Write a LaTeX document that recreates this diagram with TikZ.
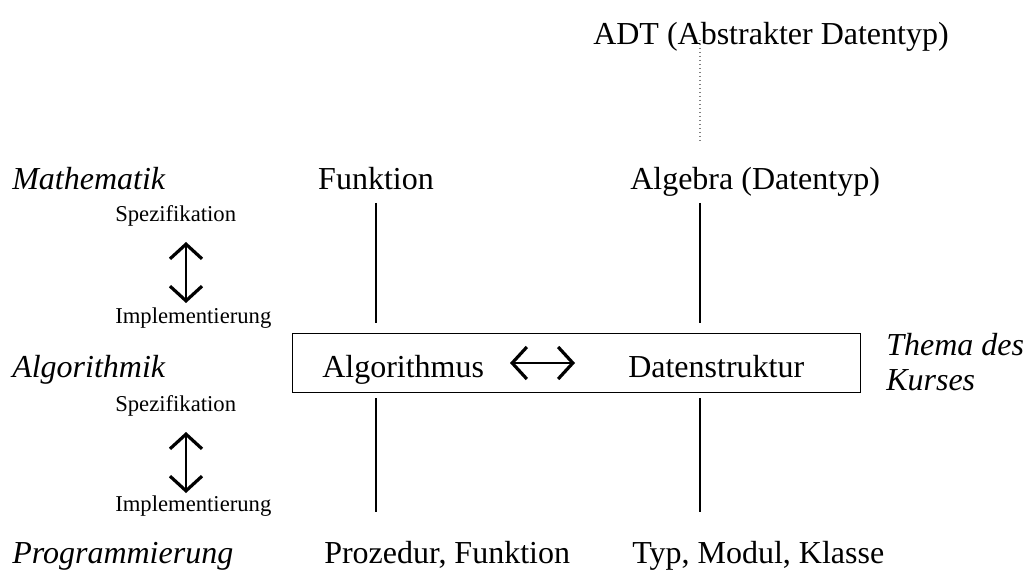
\documentclass[tikz,border=0pt]{standalone}
\usepackage{fontspec}
\setmainfont{Liberation Serif}
\usetikzlibrary{arrows.meta}
\tikzset{gross/.style={font=\fontsize{24}{28}\selectfont,inner sep=0pt},
ebene/.style={font=\fontsize{24}{28}\selectfont\itshape,inner sep=0pt},
klein/.style={font=\fontsize{17}{19}\selectfont,inner sep=0pt},
linie/.style={line width=.8pt},
barb/.tip={Straight Barb[length=11pt,width=24pt,line width=2.4pt]},
pfeil/.style={line width=1.5pt,barb-barb}}
\begin{document}
\begin{tikzpicture}[x=.75pt,y=-.75pt]
\useasboundingbox(0,0)rectangle(1028,570);
\node[gross,anchor=base west](adt)at(593,45){ADT (Abstrakter Datentyp)};
\node[ebene,anchor=base west](mathe)at(12,190){Mathematik};
\node[gross,anchor=base](funk)at(376,190){Funktion};
\node[gross,anchor=base west](alg)at(630,190){Algebra (Datentyp)};
\node[klein,anchor=base west](spez1)at(115,222){Spezifikation};
\node[klein,anchor=base west](impl1)at(115,324){Implementierung};
\node[draw,linie,anchor=north west,minimum width=426pt,minimum height=44pt](kurs)at(292,333){};
\node[ebene,anchor=base west](algo)at(12,377){Algorithmik};
\node[gross,anchor=base west](algus)at(322,377){Algorithmus};
\node[gross,anchor=base west](daten)at(628,377){Datenstruktur};
\node[ebene,anchor=base west](thema)at(886,355){Thema des};
\node[ebene,anchor=base west](kurse)at(886,390){Kurses};
\node[klein,anchor=base west](spez2)at(115,411){Spezifikation};
\node[klein,anchor=base west](impl2)at(115,511){Implementierung};
\node[ebene,anchor=base west](prog)at(12,563){Programmierung};
\node[gross,anchor=base west](proz)at(324,563){Prozedur, Funktion};
\node[gross,anchor=base west](typ)at(632,563){Typ, Modul, Klasse};
\coordinate(o1)at(700,40);\coordinate(o2)at(700,143);
\draw[dotted,gray,line width=1pt](o1)--(o2);
\coordinate(l1)at(376,203);\coordinate(l2)at(376,323);
\coordinate(r1)at(700,203);\coordinate(r2)at(700,323);
\draw[linie](l1)--(l2);
\draw[linie](r1)--(r2);
\coordinate(l3)at(376,398);\coordinate(l4)at(376,512);
\coordinate(r3)at(700,398);\coordinate(r4)at(700,512);
\draw[linie](l3)--(l4);
\draw[linie](r3)--(r4);
\coordinate(p1)at(186,242);\coordinate(p2)at(186,303);
\draw[pfeil](p1)--(p2);
\coordinate(p3)at(186,432);\coordinate(p4)at(186,493);
\draw[pfeil](p3)--(p4);
\coordinate(h1)at(510,363);\coordinate(h2)at(575,363);
\draw[pfeil](h1)--(h2);
\end{tikzpicture}
\end{document}
